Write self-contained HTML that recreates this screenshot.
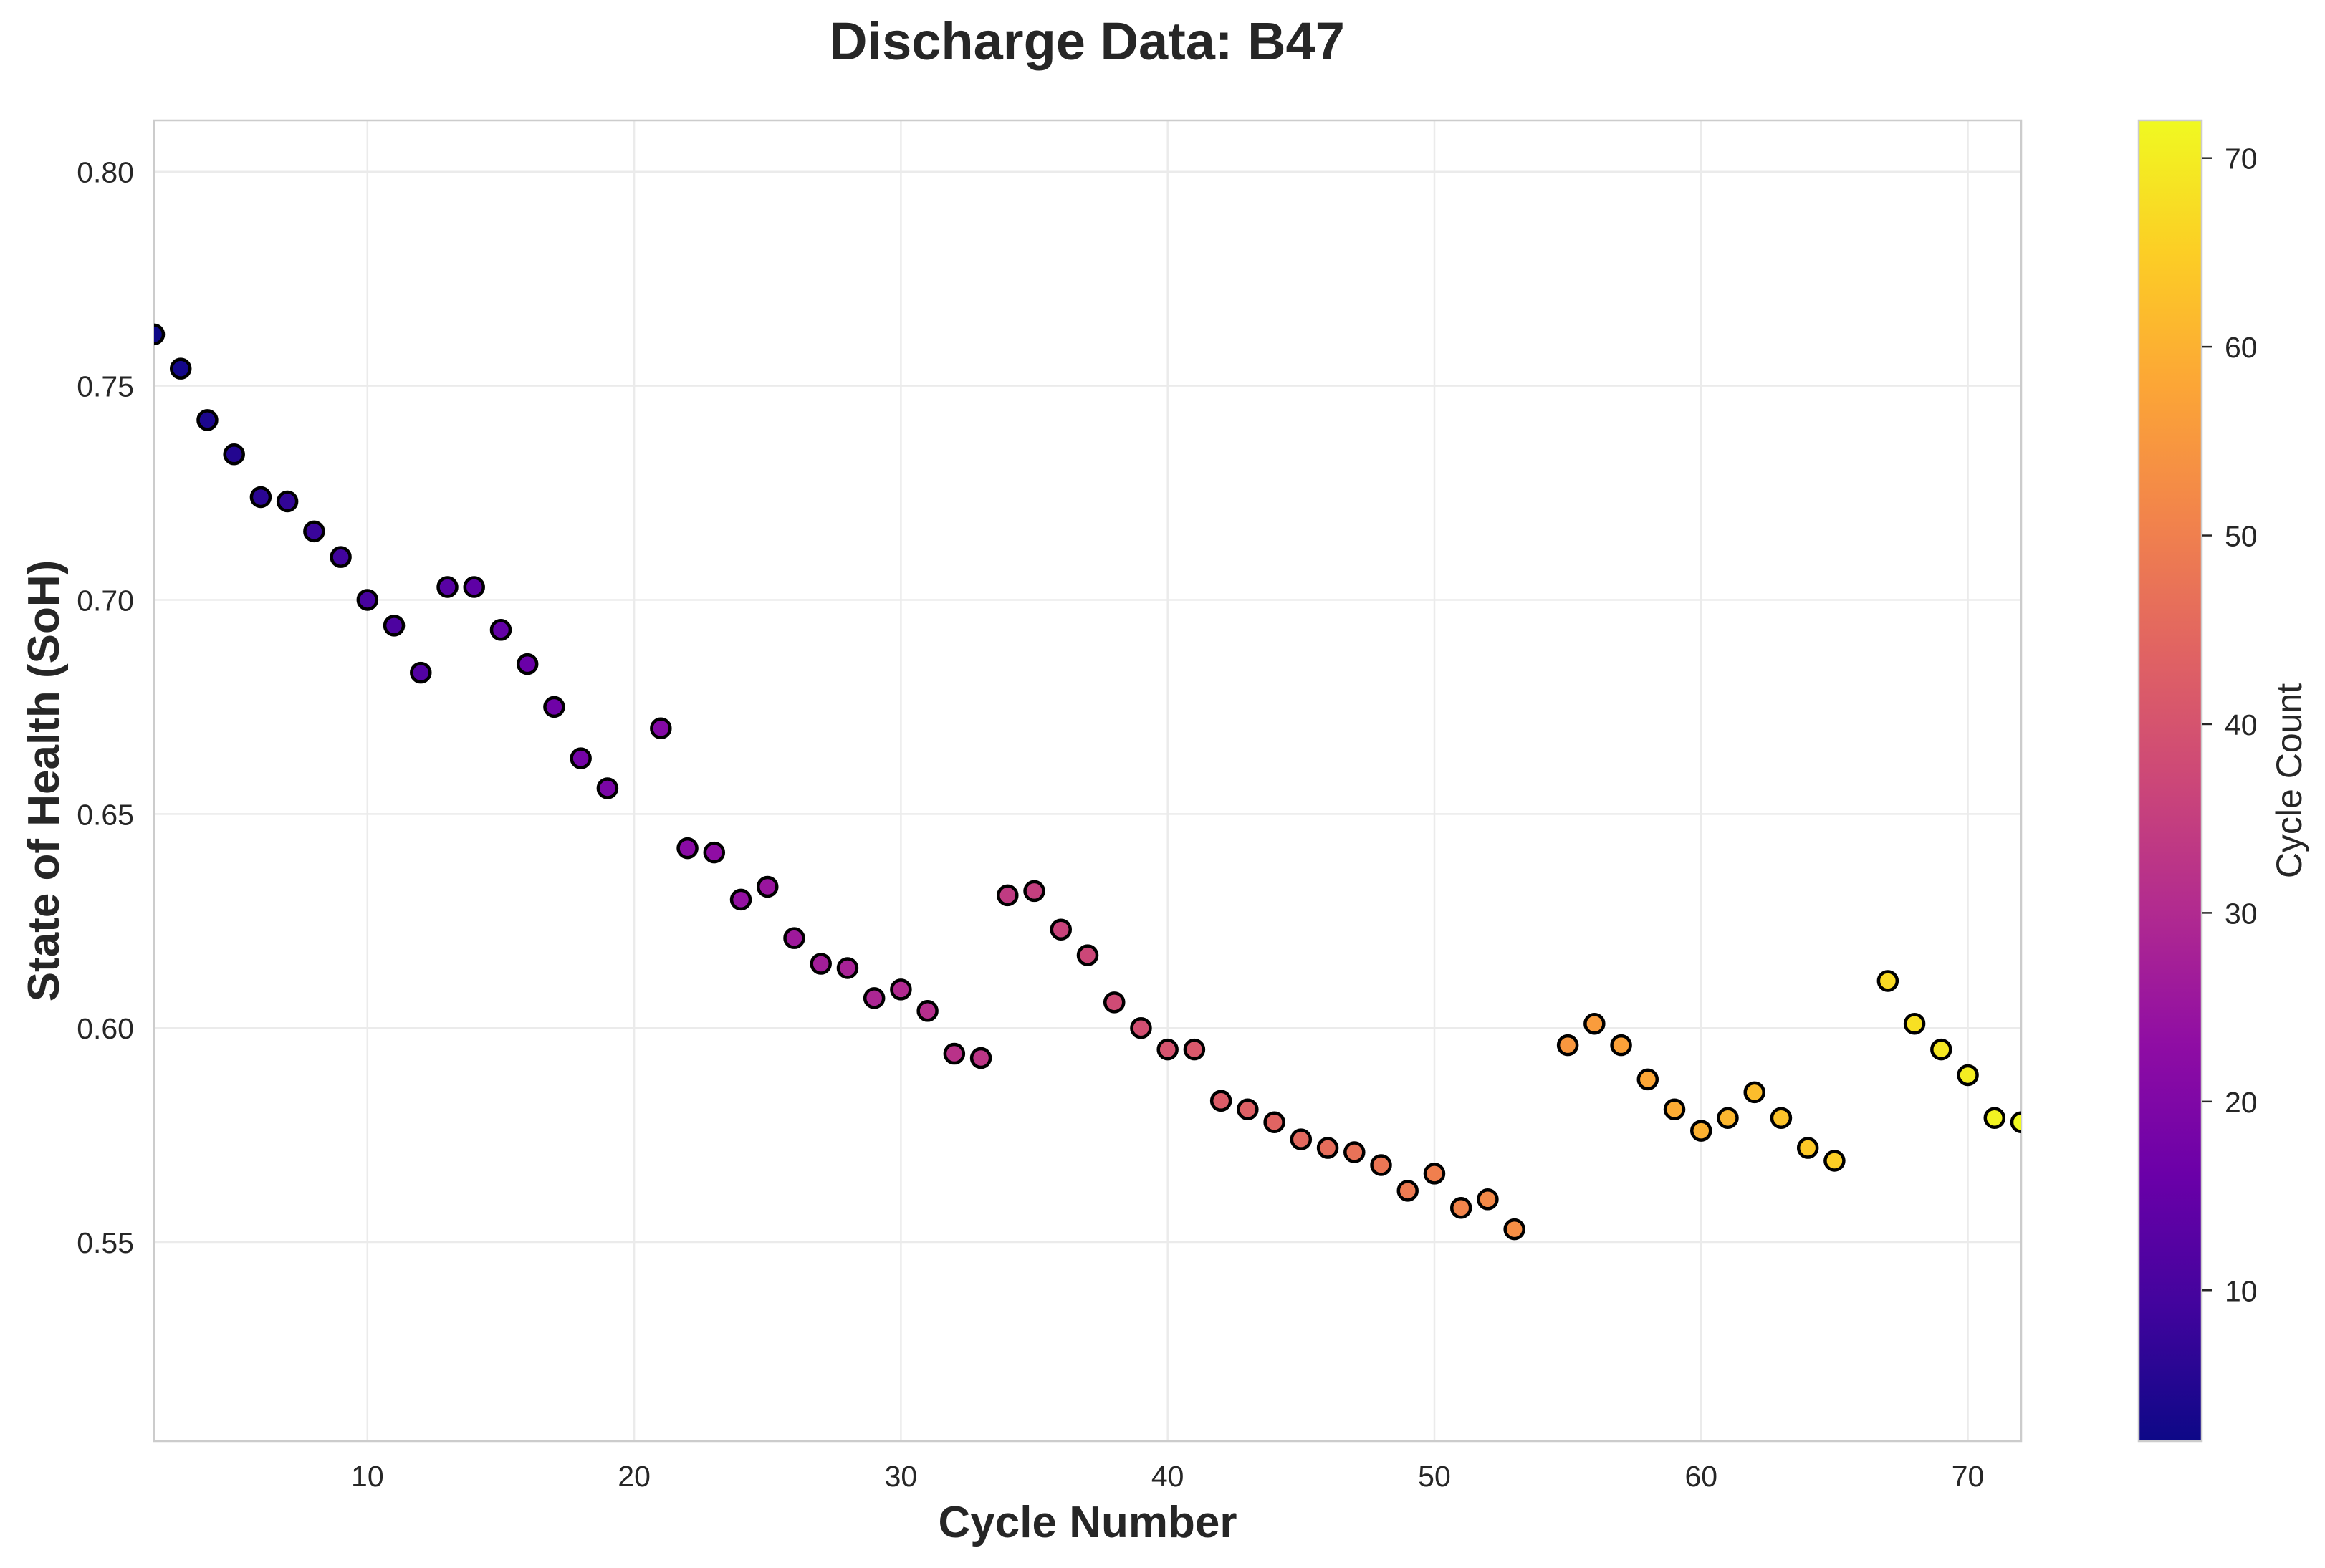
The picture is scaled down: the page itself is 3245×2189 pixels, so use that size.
<!DOCTYPE html>
<html><head><meta charset="utf-8"><style>
html,body{margin:0;padding:0;background:#fff;}
svg{display:block;font-family:"Liberation Sans",Arial,sans-serif;}
</style></head><body>
<svg id="chart" width="3245" height="2189" viewBox="0 0 3245 2189" xmlns="http://www.w3.org/2000/svg">
<defs>
<clipPath id="plotclip"><rect x="215" y="168" width="2606" height="1844"/></clipPath>
<linearGradient id="plasma" x1="0" y1="1" x2="0" y2="0">
<stop offset="0" stop-color="#0d0887"/><stop offset="0.1" stop-color="#41049d"/><stop offset="0.2" stop-color="#6a00a8"/><stop offset="0.3" stop-color="#8f0da4"/><stop offset="0.4" stop-color="#b12a90"/><stop offset="0.5" stop-color="#cc4778"/><stop offset="0.6" stop-color="#e16462"/><stop offset="0.7" stop-color="#f2844b"/><stop offset="0.8" stop-color="#fca636"/><stop offset="0.9" stop-color="#fcce25"/><stop offset="1" stop-color="#f0f921"/>
</linearGradient>
</defs>
<text x="1517" y="83" text-anchor="middle" font-size="74" font-weight="bold" fill="#262626">Discharge Data: B47</text>
<g id="grid"></g>
<rect x="215" y="168" width="2606" height="1844" fill="none" stroke="#cccccc" stroke-width="2.5"/>
<g id="points" clip-path="url(#plotclip)"></g>
<g id="xticks"></g>
<g id="yticks"></g>
<text x="1518" y="2146" text-anchor="middle" font-size="62" font-weight="bold" fill="#262626">Cycle Number</text>
<text transform="translate(82,1090) rotate(-90)" text-anchor="middle" font-size="62" font-weight="bold" fill="#262626">State of Health (SoH)</text>
<rect x="2985" y="168" width="88" height="1844" fill="url(#plasma)" stroke="#cccccc" stroke-width="2.5"/>
<g id="cbticks"></g>
<text transform="translate(3212,1090) rotate(-90)" text-anchor="middle" font-size="50" fill="#262626">Cycle Count</text>
</svg>
<script>
const cycles=[2,3,4,5,6,7,8,9,10,11,12,13,14,15,16,17,18,19,21,22,23,24,25,26,27,28,29,30,31,32,33,34,35,36,37,38,39,40,41,42,43,44,45,46,47,48,49,50,51,52,53,55,56,57,58,59,60,61,62,63,64,65,67,68,69,70,71,72];
const soh=[0.762,0.754,0.742,0.734,0.724,0.723,0.716,0.710,0.700,0.694,0.683,0.703,0.703,0.693,0.685,0.675,0.663,0.656,0.670,0.642,0.641,0.630,0.633,0.621,0.615,0.614,0.607,0.609,0.604,0.594,0.593,0.631,0.632,0.623,0.617,0.606,0.600,0.595,0.595,0.583,0.581,0.578,0.574,0.572,0.571,0.568,0.562,0.566,0.558,0.560,0.553,0.596,0.601,0.596,0.588,0.581,0.576,0.579,0.585,0.579,0.572,0.569,0.611,0.601,0.595,0.589,0.579,0.578];
const xTicks=[10,20,30,40,50,60,70];
const yTicks=[0.55,0.60,0.65,0.70,0.75,0.80];
const yTickLabels=["0.55","0.60","0.65","0.70","0.75","0.80"];
const cbTicks=[10,20,30,40,50,60,70];
const NS="http://www.w3.org/2000/svg";
const X0=215,X1=2821,Y0=168,Y1=2012;
const xMin=2,xMax=72,yMin=0.5035,yMax=0.812,cMin=2,cMax=72;
const sx=v=>X0+(v-xMin)/(xMax-xMin)*(X1-X0);
const sy=v=>Y1-(v-yMin)/(yMax-yMin)*(Y1-Y0);
const sc=v=>Y1-(v-cMin)/(cMax-cMin)*(Y1-Y0);
const stops=[[13,8,135],[65,4,157],[106,0,168],[143,13,164],[177,42,144],[204,71,120],[225,100,98],[242,132,75],[252,166,54],[252,206,37],[240,249,33]];
function plasma(t){t=Math.max(0,Math.min(1,t))*10;const i=Math.min(9,Math.floor(t)),f=t-i;const a=stops[i],b=stops[i+1];return `rgb(${a.map((c,k)=>Math.round(c+(b[k]-c)*f)).join(',')})`;}
function mk(tag,attrs,parent){const e=document.createElementNS(NS,tag);for(const k in attrs)e.setAttribute(k,attrs[k]);parent.appendChild(e);return e;}
const grid=document.getElementById('grid');
xTicks.forEach(v=>{const l=mk('line',{x1:sx(v),x2:sx(v),y1:Y0,y2:Y1,stroke:'#ebebeb','stroke-width':2.5},grid);

});
yTicks.forEach(v=>{const l=mk('line',{x1:X0,x2:X1,y1:sy(v),y2:sy(v),stroke:'#ebebeb','stroke-width':2.5},grid);

});
const xt=document.getElementById('xticks');
xTicks.forEach(v=>{const t=mk('text',{x:sx(v),y:2075,'text-anchor':'middle','font-size':41,fill:'#262626'},xt);t.textContent=v;

});
const yt=document.getElementById('yticks');
yTicks.forEach((v,i)=>{const t=mk('text',{x:187,y:sy(v)+15,'text-anchor':'end','font-size':41,fill:'#262626'},yt);t.textContent=yTickLabels[i];

});
const cb=document.getElementById('cbticks');
cbTicks.forEach(v=>{const l=mk('line',{x1:3073,x2:3087,y1:sc(v),y2:sc(v),stroke:'#262626','stroke-width':2.5},cb);


const t=mk('text',{x:3105,y:sc(v)+15,'font-size':41,fill:'#262626'},cb);t.textContent=v;

});
const pts=document.getElementById('points');
cycles.forEach((c,i)=>{const p=mk('circle',{cx:sx(c),cy:sy(soh[i]),r:13,fill:plasma((c-cMin)/(cMax-cMin)),stroke:'#000','stroke-width':4.5},pts);

});
</script>
</body></html>
